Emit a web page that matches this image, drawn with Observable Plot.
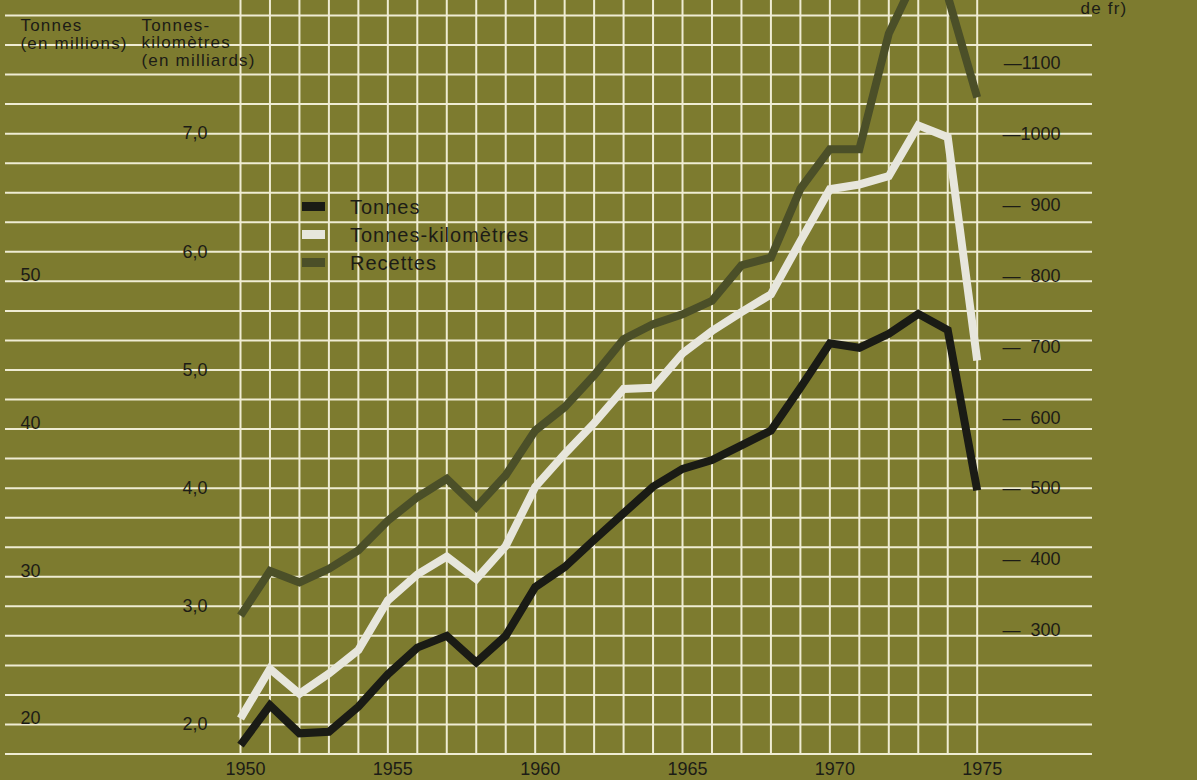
<!DOCTYPE html>
<html>
<head>
<meta charset="utf-8">
<script src="https://cdn.jsdelivr.net/npm/d3@7"></script>
<script src="https://cdn.jsdelivr.net/npm/@observablehq/plot@0.6"></script>
<style>
  html, body { margin: 0; padding: 0; background: #7d7b2f; }
  #wrap { position: relative; width: 1197px; height: 780px; overflow: hidden; }
  #legend { position: absolute; left: 0; top: 0; font-family: "Liberation Sans", Arial, sans-serif;
            font-size: 20px; letter-spacing: 1px; color: #1c1c16; }
  #legend .row { position: absolute; left: 302px; height: 28px; width: 260px; white-space: nowrap; }
  #legend .sw { position: absolute; left: 0; width: 23px; height: 9px; }
  #legend .lab { position: absolute; left: 48px; top: 0; line-height: 20px; }
  svg text.hdr, svg text.hdr tspan { letter-spacing: 1.2px; }
</style>
</head>
<body>
<div id="wrap"></div>
<script>
// ---------- data ----------
const years = [1950,1951,1952,1953,1954,1955,1956,1957,1958,1959,1960,1961,1962,
               1963,1964,1965,1966,1967,1968,1969,1970,1971,1972,1973,1974,1975];
// Tonnes (millions)
const tonnes = [18.6,21.3,19.4,19.5,21.2,23.4,25.2,26.0,24.2,26.0,29.3,30.65,32.5,
                34.3,36.1,37.3,37.9,38.9,39.9,42.8,45.8,45.5,46.45,47.8,46.7,35.85];
// Tonnes-kilomètres (milliards)
const tonnesKm = [2.05,2.47,2.26,2.43,2.63,3.05,3.27,3.42,3.23,3.51,4.01,4.29,4.55,
                  4.84,4.85,5.14,5.33,5.49,5.64,6.09,6.53,6.57,6.64,7.07,6.97,5.08];
// Recettes (millions de fr)
const recettes = [321,384,368,387,413,455,488,514,474,519,582,615,660,
                  711,732,746,765,815,826,923,979,979,1142,1229,1195,1052];

const yearTicks = [1950,1955,1960,1965,1970,1975];
const tonnesTicks = [20,30,40,50];
const tkTicks = [2,3,4,5,6,7];
const recTicks = [300,400,500,600,700,800,900,1000,1100];
const seriesNames = ["Tonnes", "Tonnes-kilomètres", "Recettes"];
const headerTexts = ["Tonnes\n(en millions)", "Tonnes-\nkilomètres\n(en milliards)", "de fr)"];

// ---------- styles ----------
const BG = "#7d7b2f", GRID = "#efecd3", INK = "#1c1c16";
const C_T = "#1a1b15", C_TK = "#e7e6dc", C_R = "#4b4f28";
const seriesColors = [C_T, C_TK, C_R];
const FONT = "'Liberation Sans', Arial, Helvetica, sans-serif";

// common vertical scale expressed in "Tonnes" units; the other two series are mapped onto it
const tkToY = t => 20 + (t - 2) * 8;
const recToY = r => 20 + (r - 167.5) * 0.048;
const gridRows = d3.range(18, 69, 2);

const lineOpts = {strokeWidth: 8, strokeLinejoin: "miter", strokeLinecap: "butt", strokeMiterlimit: 6};

const svg = Plot.plot({
  width: 1197, height: 780,
  marginTop: 0, marginBottom: 26.5, marginLeft: 5, marginRight: 105,
  x: {domain: [1950, 1975], range: [240, 976.7], axis: null},
  y: {domain: [18, 68], range: [753.5, 15], axis: null},
  style: {background: BG, fontFamily: FONT, color: INK},
  marks: [
    Plot.ruleY(gridRows, {stroke: GRID, strokeWidth: 2}),
    Plot.ruleX(years, {stroke: GRID, strokeWidth: 2}),
    Plot.line(years, {x: d => d, y: (d, i) => recToY(recettes[i]), stroke: C_R, ...lineOpts}),
    Plot.line(years, {x: d => d, y: (d, i) => tkToY(tonnesKm[i]), stroke: C_TK, ...lineOpts}),
    Plot.line(years, {x: d => d, y: (d, i) => tonnes[i], stroke: C_T, ...lineOpts}),
    // x tick labels
    Plot.text(yearTicks, {x: d => d, frameAnchor: "bottom", lineAnchor: "top", dy: 8.2, dx: 5,
      text: d => String(d), fontSize: 18, fill: INK}),
    // left axis: Tonnes
    Plot.text(tonnesTicks, {y: d => d, frameAnchor: "left", dx: 15, textAnchor: "start",
      lineAnchor: "bottom", text: d => String(d), fontSize: 18, fill: INK}),
    // middle axis: Tonnes-kilomètres
    Plot.text(tkTicks, {y: d => tkToY(d), frameAnchor: "left", dx: 202, textAnchor: "end",
      lineAnchor: "middle", text: d => d.toFixed(1).replace(".", ","), fontSize: 18, fill: INK}),
    // right axis: Recettes
    Plot.text(recTicks, {y: d => recToY(d), frameAnchor: "right", dx: -32, textAnchor: "end",
      lineAnchor: "middle", text: d => "—" + (d < 1000 ? "\u2007" : "") + d, fontSize: 18, fill: INK}),
    // axis headers
    Plot.text([headerTexts[0]], {frameAnchor: "top-left", dx: 15, dy: 18.3, lineAnchor: "top",
      textAnchor: "start", fontSize: 17, lineHeight: 1.035, fill: INK}),
    Plot.text([headerTexts[1]], {frameAnchor: "top-left", dx: 136, dy: 18.3,
      lineAnchor: "top", textAnchor: "start", fontSize: 17, lineHeight: 1.02, fill: INK}),
    Plot.text([headerTexts[2]], {frameAnchor: "top-right", dx: -12, dy: 13.5, lineAnchor: "bottom",
      textAnchor: "start", fontSize: 17, fill: INK})
  ]
});
// wider letter spacing for the hand-lettered axis headers
const headerWords = /Tonnes|kilom|fr\)/;
d3.select(svg).selectAll("text")
  .filter(function () { return headerWords.test(this.textContent); })
  .classed("hdr", true)
  .attr("letter-spacing", "1.2px")
  .selectAll("tspan").attr("letter-spacing", "1.2px");

const wrap = document.getElementById("wrap");
wrap.appendChild(svg);

// legend
const legend = document.createElement("div");
legend.id = "legend";
seriesNames.forEach((name, i) => {
  const row = document.createElement("div");
  row.className = "row";
  const baseline = 214 + 28 * i;
  row.style.top = (baseline - 16.9) + "px";
  const sw = document.createElement("span");
  sw.className = "sw";
  sw.style.background = seriesColors[i];
  sw.style.top = (16.9 - 7 - 4.5) + "px";
  const lab = document.createElement("span");
  lab.className = "lab";
  lab.textContent = name;
  row.appendChild(sw);
  row.appendChild(lab);
  legend.appendChild(row);
});
wrap.appendChild(legend);
</script>
</body>
</html>
